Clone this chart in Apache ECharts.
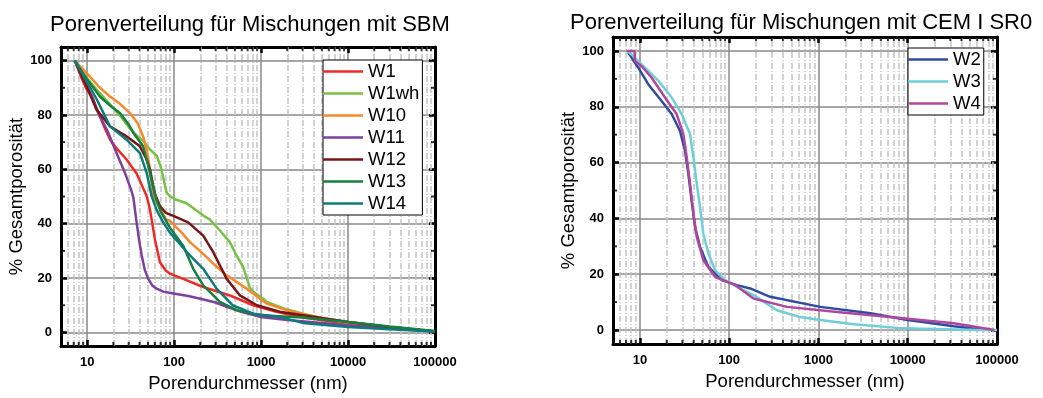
<!DOCTYPE html>
<html><head><meta charset="utf-8">
<script src="https://cdn.jsdelivr.net/npm/echarts@6/dist/echarts.min.js"></script>
<style>html,body{margin:0;padding:0;background:#fff}#c{width:1043px;height:398px}</style>
</head><body><div id="c"></div>
<script>
// ---- tick values ----
const xTickLabels = [10, 100, 1000, 10000, 100000];
const yTickLabels = [0, 20, 40, 60, 80, 100];
const yMinorTicks = [10, 30, 50, 70, 90];
const xMinorTicks = [6,7,8,9,20,30,40,50,60,70,80,90,200,300,400,500,600,700,800,900,
  2000,3000,4000,5000,6000,7000,8000,9000,20000,30000,40000,50000,60000,70000,80000,90000];

// ---- left chart (SBM) series: [Porendurchmesser nm, % Gesamtporosität] ----
const W1 = [[7.2,100],[8.5,94],[10,89],[11.3,87],[12.8,82],[14,79.5],[16,75],[18.3,71],[22,67.5],[28.4,63.6],[37,58.5],[48.3,50.2],[52.7,45.3],[60,34.4],[68.7,25.8],[80,22.8],[89.5,21.6],[127,19.7],[216,16.7],[437,13.6],[810,10],[1500,7.6],[3050,5.5],[10000,3.2],[30000,1.8],[100000,0.3]];
const W1wh = [[7.2,100],[10,93.5],[14,88],[20,82.5],[25,79],[31,75],[40,71.5],[44,70.5],[52,67.5],[63,65],[70,61],[75,57],[82,51.4],[89,50.2],[102,49],[139,47.5],[216,43],[258,41.5],[336,37.5],[437,33.2],[522,28.3],[623,24],[743,16.5],[810,14.9],[1057,12.4],[1157,11.2],[1960,8.5],[3050,6.9],[5000,5.3],[10000,3.8],[30000,2],[100000,0.3]];
const W10 = [[7.2,100],[10.8,94],[14,90],[18.3,86.8],[24,84],[31,80.7],[38,77],[44,72.1],[48.3,67.3],[52.7,60],[57,50.2],[63,47.8],[80,41.7],[89,41],[120,37],[152,33.2],[216,28.9],[300,24.5],[402,21],[681,16.1],[1157,10.6],[1960,8.2],[3400,6.3],[10000,3.4],[30000,1.8],[100000,0.3]];
const W11 = [[7.2,100],[8.5,95],[10,90.5],[12,85],[14,79.5],[17.5,73.5],[20.9,67.3],[27.2,58.7],[31.9,52.6],[34,49.6],[37,40.5],[40,33],[42.4,28.3],[46,23],[50.4,19.7],[56,17.3],[63,16.1],[75,15],[98,14.3],[145,13.4],[200,12.4],[300,11],[402,9.4],[600,7.5],[975,5.7],[2000,4.6],[5000,3.5],[10000,2.6],[30000,1.5],[100000,0.3]];
const W12 = [[7.2,100],[10,90],[12.8,82],[18.3,75.8],[24,73.5],[28.4,72.1],[35,70],[40.4,68.5],[48.3,63.6],[52.7,60],[60,51],[68.7,46.5],[80,44],[98,42.9],[145,40.5],[216,35.6],[282,29.5],[402,19.7],[571,13.6],[895,10],[1640,7.6],[3050,6.3],[10000,3.8],[30000,2],[100000,0.3]];
const W13 = [[7.2,100],[10,93],[14,86.8],[18.3,83.5],[23.8,80.7],[30,76.5],[34,73.4],[44,68.5],[50.4,61.2],[57,53.9],[63,48.5],[70,44.5],[89,38.6],[127,31.9],[166,23.4],[216,17.3],[336,11.2],[522,8.2],[975,6.3],[3000,5.5],[10000,3.8],[30000,2.2],[100000,0.5]];
const W14 = [[7.2,100],[10,92],[13,85.5],[18.3,75.8],[28.4,70.9],[40.4,66],[48.3,58.7],[55,50.2],[63,45],[75,40.5],[89,36.8],[152,28.3],[216,23.4],[308,16.1],[470,10],[810,6.9],[1640,5.7],[3000,3.5],[10000,2],[30000,1.2],[100000,0.3]];

// ---- right chart (CEM I SR0) series ----
const W2 = [[7.4,99.4],[9.6,94],[12.4,88.1],[17.5,82.1],[22.7,77.4],[28.1,71.4],[32,64.3],[34.9,56],[38,46.4],[41.5,36.9],[47.2,29.8],[58.5,22.6],[82.8,17.9],[122,16.1],[172,14.9],[288,11.9],[1050,8.3],[3840,6],[10000,3.6],[33000,1.4],[74000,0]];
const W3 = [[7.3,100],[11.4,94],[16.1,89.3],[22.7,83.3],[29.4,77.4],[36.5,70.2],[39.8,61.9],[43.4,52.4],[47.2,44],[51.4,34.5],[58.5,27.4],[69.7,21.4],[90,17.9],[130,15],[187,12.5],[343,7.1],[600,4.8],[1050,3.6],[2500,2.1],[9000,0.6],[60000,0],[100000,0]];
const W4 = [[7.1,100],[8.7,100],[8.8,96.4],[10.4,94.6],[13.5,90.5],[19.1,83.3],[25.8,77.4],[30.7,70.2],[33.5,61.9],[36.5,52.4],[39.8,41.7],[43.4,33.3],[51.4,25],[69.7,19],[117,16.1],[187,11.3],[445,8.3],[1620,6.5],[5900,4.8],[33000,2.4],[93000,0]];

const leftNames = ['W1','W1wh','W10','W11','W12','W13','W14'];
const leftData = [W1, W1wh, W10, W11, W12, W13, W14];
const leftColors = ['#ee2a26','#78c145','#f6892b','#7e3f9d','#7a1517','#16803f','#0f7a7b'];
const rightNames = ['W2','W3','W4'];
const rightData = [W2, W3, W4];
const rightColors = ['#2f4b9f','#6fcfd9','#b0479f'];

const FONT = 'Liberation Sans, Arial, sans-serif';

const xAxes = [], yAxes = [], series = [];
function addGrid(gi) {
  const base = {
    type: 'log', logBase: 10, min: 5, max: 100000, gridIndex: gi,
    axisLine: { show: true, onZero: false, lineStyle: { color: '#000', width: 3 } },
    axisTick: { show: true, inside: true, length: 6, lineStyle: { color: '#000', width: 2.5 } },
    splitLine: { show: false },
    minorTick: { show: false }
  };
  xAxes.push(Object.assign({}, base, {
    position: 'bottom',
    name: 'Porendurchmesser (nm)', nameLocation: 'middle', nameGap: 28,
    nameTextStyle: { fontFamily: FONT, fontSize: 18.5, color: '#000' },
    splitLine: { show: true, lineStyle: { color: '#888', width: 1.5 } },
    axisLabel: { show: true, showMinLabel: false, margin: 10, fontFamily: FONT, fontSize: 13, fontWeight: 'bold', color: '#000',
      formatter: v => String(Math.round(v)) }
  }));
  xAxes.push(Object.assign({}, base, { position: 'top', axisLabel: { show: false } }));
  const ybase = {
    type: 'value', min: -5, max: 105, gridIndex: gi,
    axisLine: { show: true, onZero: false, lineStyle: { color: '#000', width: 3 } },
    axisTick: { show: true, inside: true, length: 6, customValues: yTickLabels, lineStyle: { color: '#000', width: 2.5 } },
    splitLine: { show: false }
  };
  yAxes.push(Object.assign({}, ybase, {
    position: 'left',
    name: '% Gesamtporosität', nameLocation: 'middle', nameGap: 33,
    nameTextStyle: { fontFamily: FONT, fontSize: 18.5, color: '#000' },
    splitLine: { show: true, lineStyle: { color: '#888', width: 1.5 } },
    axisLabel: { show: true, customValues: yTickLabels, margin: 9, fontFamily: FONT, fontSize: 13, fontWeight: 'bold', color: '#000' }
  }));
  yAxes.push(Object.assign({}, ybase, { position: 'right', axisLabel: { show: false } }));
  const xi = gi * 2, yi = gi * 2;
  // minor vertical grid lines
  series.push({
    type: 'line', xAxisIndex: xi, yAxisIndex: yi, data: [], silent: true, z: 1,
    markLine: { silent: true, symbol: ['none','none'], label: { show: false }, animation: false,
      lineStyle: { color: '#c3c3c3', width: 1.5, type: [6, 2, 1, 2] },
      data: xMinorTicks.map(v => ({ xAxis: v })) }
  });
  // minor ticks bottom/top
  series.push({ type: 'scatter', xAxisIndex: xi, yAxisIndex: yi, silent: true, z: 10,
    symbol: 'rect', symbolSize: [2, 4], symbolOffset: [0, -2], clip: false,
    itemStyle: { color: '#000' }, data: xMinorTicks.map(v => [v, -5]) });
  series.push({ type: 'scatter', xAxisIndex: xi, yAxisIndex: yi, silent: true, z: 10,
    symbol: 'rect', symbolSize: [2, 4], symbolOffset: [0, 2], clip: false,
    itemStyle: { color: '#000' }, data: xMinorTicks.map(v => [v, 105]) });
  // minor ticks left/right
  series.push({ type: 'scatter', xAxisIndex: xi, yAxisIndex: yi, silent: true, z: 10,
    symbol: 'rect', symbolSize: [4, 2], symbolOffset: [2, 0], clip: false,
    itemStyle: { color: '#000' }, data: yMinorTicks.map(v => [5, v]) });
  series.push({ type: 'scatter', xAxisIndex: xi, yAxisIndex: yi, silent: true, z: 10,
    symbol: 'rect', symbolSize: [4, 2], symbolOffset: [-2, 0], clip: false,
    itemStyle: { color: '#000' }, data: yMinorTicks.map(v => [100000, v]) });
}
addGrid(0);
addGrid(1);

leftNames.forEach((n, i) => series.push({
  name: n, type: 'line', xAxisIndex: 0, yAxisIndex: 0, data: leftData[i],
  symbol: 'none', showSymbol: false, z: 5, color: leftColors[i],
  lineStyle: { width: 2.5, color: leftColors[i] }
}));
rightNames.forEach((n, i) => series.push({
  name: n, type: 'line', xAxisIndex: 2, yAxisIndex: 2, data: rightData[i],
  symbol: 'none', showSymbol: false, z: 5, color: rightColors[i],
  lineStyle: { width: 2.5, color: rightColors[i] }
}));

const legendBase = {
  orient: 'vertical', icon: 'rect', itemWidth: 40, itemHeight: 2.5, itemGap: 3,
  padding: [2, 3, 2, 0], backgroundColor: '#fff', borderColor: '#000', borderWidth: 1,
  textStyle: { fontFamily: FONT, fontSize: 18.5, color: '#000' }, selectedMode: false, z: 20
};

const chart = echarts.init(document.getElementById('c'), null, { renderer: 'canvas' });
chart.setOption({
  animation: false,
  backgroundColor: '#fff',
  title: [
    { text: 'Porenverteilung für Mischungen mit SBM', left: 45, top: 9,
      textStyle: { fontFamily: FONT, fontSize: 22, fontWeight: 'normal', color: '#000' } },
    { text: 'Porenverteilung für Mischungen mit CEM I SR0', left: 565, top: 7,
      textStyle: { fontFamily: FONT, fontSize: 22, fontWeight: 'normal', color: '#000' } }
  ],
  grid: [
    { left: 61, right: 608, top: 47, bottom: 51, containLabel: false },
    { left: 613, right: 46, top: 37, bottom: 54, containLabel: false }
  ],
  xAxis: xAxes,
  yAxis: yAxes,
  legend: [
    Object.assign({}, legendBase, { left: 323, top: 60, data: leftNames }),
    Object.assign({}, legendBase, { left: 908, top: 48, data: rightNames })
  ],
  series: series
});
</script></body></html>
